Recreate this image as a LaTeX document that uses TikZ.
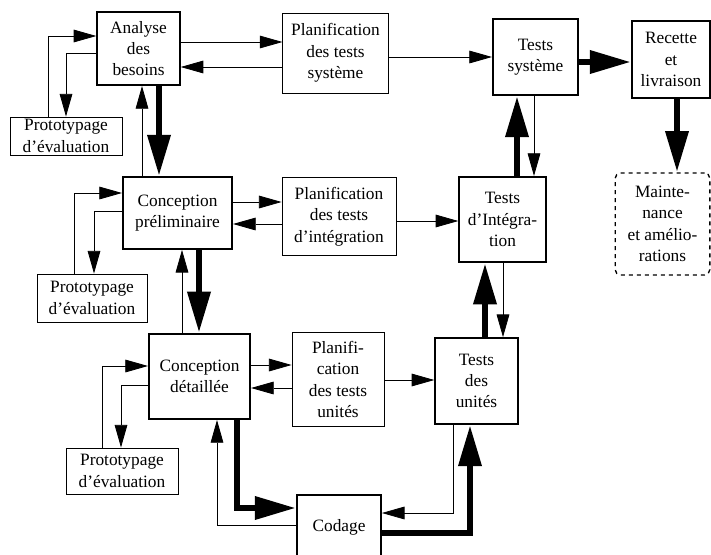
\documentclass[tikz,border=0pt]{standalone}
\usepackage{fontspec}
\setmainfont{Liberation Serif}
\usetikzlibrary{arrows.meta}

\begin{document}
\begin{tikzpicture}[x=0.75pt,y=-0.75pt,
    font=\fontsize{13}{16}\selectfont,
    boite/.style={draw,line width=1.3pt,align=center,inner sep=2pt},
    planif/.style={draw,line width=0.6pt,align=center,inner sep=2pt},
    proto/.style={draw,line width=0.7pt,align=center,inner sep=1pt},
    fleche/.style={line width=0.6pt,-{Triangle[length=17pt,width=9.5pt]}},
    grosse/.style={line width=5pt,-{Triangle[length=31pt,width=16.5pt]}}]
  \useasboundingbox (0,0) rectangle (711,554);

  %colonne gauche
	\node[boite,minimum width=62pt,minimum height=55pt] (ana) at (138.5,48.5) {Analyse\\des\\besoins};
	\node[boite,minimum width=82pt,minimum height=54pt] (cpre) at (177.5,213) {Conception\\préliminaire};
	\node[boite,minimum width=76pt,minimum height=64pt] (cdet) at (199.5,376.5) {Conception\\détaillée};
	\node[boite,minimum width=63pt,minimum height=49pt] (cod) at (339,527.5) {Codage};

  %prototypages
	\node[proto,minimum width=84pt,minimum height=28.5pt] (proto1) at (66,136) {Prototypage\\d'évaluation};
	\node[proto,minimum width=82.5pt,minimum height=36pt] (proto2) at (92,298) {Prototypage\\d'évaluation};
	\node[proto,minimum width=84pt,minimum height=34.5pt] (proto3) at (122,471) {Prototypage\\d'évaluation};

  %planifications
	\node[planif,minimum width=79pt,minimum height=60pt] (pst) at (335.5,53) {Planification\\des tests\\système};
	\node[planif,minimum width=85.5pt,minimum height=59pt] (pint) at (339,216.5) {Planification\\des tests\\d'intégration};
	\node[planif,minimum width=69pt,minimum height=70pt] (pun) at (338,379.5) {Planifi-\\cation\\des tests\\unités};

  %tests
	\node[boite,minimum width=64pt,minimum height=57pt] (tsys) at (535.5,57) {Tests\\système};
	\node[boite,minimum width=65pt,minimum height=64pt] (tint) at (502.5,219.5) {Tests\\d'Intégra-\\tion};
	\node[boite,minimum width=62pt,minimum height=64.5pt] (tun) at (476.5,381) {Tests\\des\\unités};

  %livraison
	\node[boite,minimum width=58.5pt,minimum height=58pt] (rec) at (671,59.5) {Recette\\et\\livraison};
	\node[draw,dashed,line width=1pt,rounded corners=4pt,align=center,minimum width=71pt,minimum height=76.5pt] (mnt) at (662.5,224) {Mainte-\\nance\\et amélio-\\rations};

  %analyse
	\draw[fleche] (proto1.north -| 48,0) |- (ana.west |- 0,36);
	\draw[fleche] (ana.west |- 0,53) -| (proto1.north -| 66,0);
	\draw[fleche] (ana.east |- 0,42) -- (pst.west |- 0,42);
	\draw[fleche] (pst.west |- 0,67) -- (ana.east |- 0,67);
	\draw[fleche] (pst.east |- 0,57) -- (tsys.west |- 0,57);
	\draw[grosse] (ana.south -| 159,0) -- (cpre.north -| 159,0);
	\draw[fleche] (cpre.north -| 142,0) -- (ana.south -| 142,0);

  %conception preliminaire
	\draw[fleche] (proto2.north -| 74,0) |- (cpre.west |- 0,193);
	\draw[fleche] (cpre.west |- 0,211) -| (proto2.north -| 94,0);
	\draw[fleche] (cpre.east |- 0,202) -- (pint.west |- 0,202);
	\draw[fleche] (pint.west |- 0,224) -- (cpre.east |- 0,224);
	\draw[fleche] (pint.east |- 0,221) -- (tint.west |- 0,221);
	\draw[grosse] (cpre.south -| 199,0) -- (cdet.north -| 199,0);
	\draw[fleche] (cdet.north -| 182,0) -- (cpre.south -| 182,0);

  %conception detaillee
	\draw[fleche] (proto3.north -| 102,0) |- (cdet.west |- 0,366);
	\draw[fleche] (cdet.west |- 0,385) -| (proto3.north -| 121,0);
	\draw[fleche] (cdet.east |- 0,365) -- (pun.west |- 0,365);
	\draw[fleche] (pun.west |- 0,388) -- (cdet.east |- 0,388);
	\draw[fleche] (pun.east |- 0,380) -- (tun.west |- 0,380);

  %codage
	\draw[grosse] (cdet.south -| 237,0) |- (cod.west |- 0,508);
	\draw[fleche] (cod.west |- 0,525) -| (cdet.south -| 217,0);
	\draw[fleche] (tun.south -| 453,0) |- (cod.east |- 0,513);
	\draw[grosse] (cod.east |- 0,533) -| (tun.south -| 470,0);

  %remontee des tests
	\draw[grosse] (tun.north -| 485,0) -- (tint.south -| 485,0);
	\draw[fleche] (tint.south -| 503,0) -- (tun.north -| 503,0);
	\draw[grosse] (tint.north -| 517,0) -- (tsys.south -| 517,0);
	\draw[fleche] (tsys.south -| 534,0) -- (tint.north -| 534,0);
	\draw[grosse] (tsys.east |- 0,62) -- (rec.west |- 0,62);
	\draw[grosse] (rec.south -| 677,0) -- (mnt.north -| 677,0);
\end{tikzpicture}
\end{document}
